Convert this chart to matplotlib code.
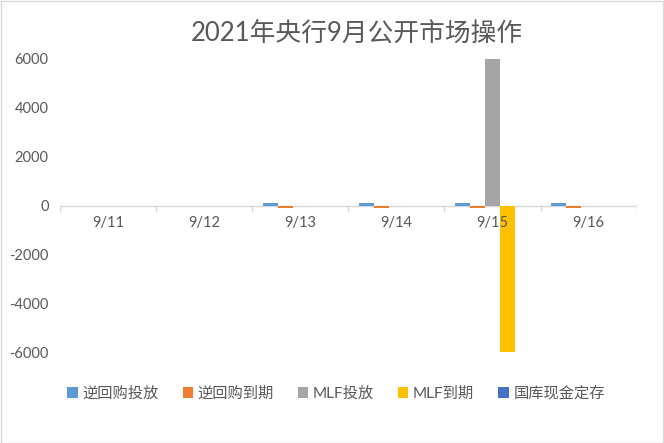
import matplotlib
matplotlib.use("Agg")
import matplotlib.pyplot as plt
import numpy as np
from matplotlib.patches import Rectangle

plt.rcParams['font.family'] = ['Lato', 'Noto Sans CJK SC', 'DejaVu Sans']

categories = ["9/11", "9/12", "9/13", "9/14", "9/15", "9/16"]
series_names = ["逆回购投放", "逆回购到期", "MLF投放", "MLF到期", "国库现金定存"]
reverse_repo_in = [0, 0, 100, 100, 100, 100]
reverse_repo_out = [0, 0, -100, -100, -100, -100]
mlf_in = [0, 0, 0, 0, 6000, 0]
mlf_out = [0, 0, 0, 0, -6000, 0]
treasury_deposit = [0, 0, 0, 0, 0, 0]
yticks = [-6000, -4000, -2000, 0, 2000, 4000, 6000]
colors = ["#5B9BD5", "#ED7D31", "#A5A5A5", "#FFC000", "#4472C4"]

data = [reverse_repo_in, reverse_repo_out, mlf_in, mlf_out, treasury_deposit]

fig = plt.figure(figsize=(6.64, 4.43), dpi=100)
ax = fig.add_axes([0.09, 0.205, 0.869, 0.662])

x = np.arange(len(categories))
w = 0.155
for i, (vals, c, name) in enumerate(zip(data, colors, series_names)):
    ax.bar(x + (i - 2) * w, vals, width=w, color=c, label=name, zorder=2)

ax.set_xlim(-0.5, len(categories) - 0.5)
ax.set_ylim(-6000, 6000)
ax.set_yticks(yticks)
ax.set_yticklabels([str(v) for v in yticks])
for s in ["top", "right", "left", "bottom"]:
    ax.spines[s].set_visible(False)
ax.axhline(0, color="#D9D9D9", lw=1, zorder=1)
ax.tick_params(axis="y", length=0, labelsize=10.5, colors="#595959", pad=8)
ax.set_xticks([])
for i, c in enumerate(categories):
    ax.text(i, -420, c, ha="center", va="top", fontsize=10.5, color="#595959")
for b in np.arange(-0.5, len(categories), 1.0):
    ax.plot([b, b], [0, -230], color="#D9D9D9", lw=1, zorder=1)

fig.text(0.538, 0.925, "2021年央行9月公开市场操作", ha="center", va="center",
         fontsize=18.5, color="#595959")

handles, labels = ax.get_legend_handles_labels()
fig.legend(handles, labels, loc="center", bbox_to_anchor=(0.506, 0.112), ncol=5,
           frameon=False, fontsize=11, labelcolor="#595959", handlelength=0.7,
           handleheight=0.7, handletextpad=0.3, columnspacing=1.55)

fig.patches.append(Rectangle((0.001, 0.001), 0.997, 0.997, transform=fig.transFigure,
                             fill=False, edgecolor="#D9D9D9", lw=1))

fig.savefig("out.png", dpi=100)
